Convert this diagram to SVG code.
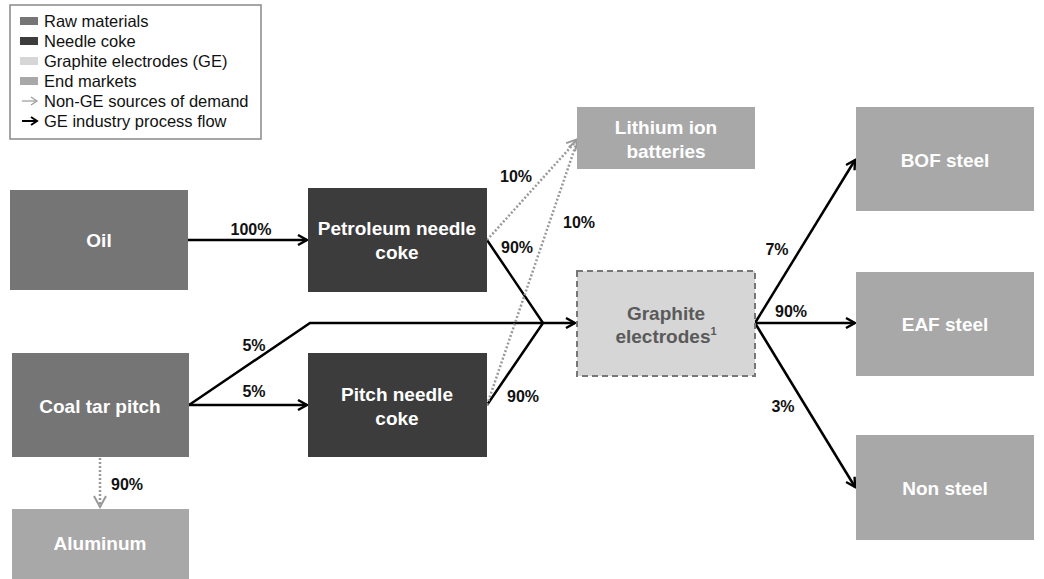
<svg xmlns="http://www.w3.org/2000/svg" width="1044" height="579" viewBox="0 0 1044 579">
<style>
.lbl{font-family:"Liberation Sans",Arial,sans-serif;font-weight:bold;font-size:19px;fill:#fff;text-anchor:middle}
.gel{font-family:"Liberation Sans",Arial,sans-serif;font-weight:bold;font-size:19px;fill:#5a5a5a;text-anchor:middle}
.pct{font-family:"Liberation Sans",Arial,sans-serif;font-weight:bold;font-size:16px;fill:#111;text-anchor:middle}
.leg{font-family:"Liberation Sans",Arial,sans-serif;font-size:16.5px;fill:#111}
.raw{fill:#757575}
.coke{fill:#3c3c3c}
.end{fill:#a8a8a8}
.ge{fill:#d6d6d6;stroke:#777;stroke-width:2;stroke-dasharray:6 4}
.flow{stroke:#000;stroke-width:2.5;fill:none}
.dot{stroke:#999;stroke-width:2.5;fill:none;stroke-dasharray:2 2}
</style>
<defs>
<marker id="ah" markerWidth="12" markerHeight="12" refX="10" refY="6" orient="auto" markerUnits="userSpaceOnUse">
<path d="M1,1 L10,6 L1,11" fill="none" stroke="#000" stroke-width="2.4"/>
</marker>
<marker id="ahg" markerWidth="14" markerHeight="14" refX="12" refY="7" orient="auto" markerUnits="userSpaceOnUse">
<path d="M1,1 L12,7 L1,13" fill="none" stroke="#999" stroke-width="2"/>
</marker>
</defs>
<rect width="1044" height="579" fill="#fff"/>
<g id="legend">
<rect x="10" y="5" width="251" height="134" fill="#fff" stroke="#888" stroke-width="1.5"/>
<rect x="20" y="17" width="18" height="8" class="raw"/>
<text x="44" y="27" class="leg">Raw materials</text>
<rect x="20" y="37" width="18" height="8" class="coke"/>
<text x="44" y="47" class="leg">Needle coke</text>
<rect x="20" y="57" width="18" height="8" fill="#d6d6d6"/>
<text x="44" y="67" class="leg">Graphite electrodes (GE)</text>
<rect x="20" y="77" width="18" height="8" class="end"/>
<text x="44" y="87" class="leg">End markets</text>
<line x1="22" y1="101" x2="36" y2="101" stroke="#999" stroke-width="1.2"/>
<path d="M31,97 L37,101 L31,105" fill="none" stroke="#999" stroke-width="1.2"/>
<text x="44" y="107" class="leg">Non-GE sources of demand</text>
<line x1="22" y1="121" x2="36" y2="121" stroke="#000" stroke-width="2"/>
<path d="M31,117 L37,121 L31,125" fill="none" stroke="#000" stroke-width="2"/>
<text x="44" y="127" class="leg">GE industry process flow</text>
</g>
<g id="connectors">
<line x1="188" y1="240" x2="307" y2="240" class="flow" marker-end="url(#ah)"/>
<line x1="189" y1="405" x2="307" y2="405" class="flow" marker-end="url(#ah)"/>
<polyline points="189,405 310,323 575,323" class="flow" marker-end="url(#ah)"/>
<polyline points="487,240 543,323 487,405" class="flow"/>
<line x1="487" y1="240" x2="578" y2="139" class="dot" marker-end="url(#ahg)"/>
<line x1="487" y1="405" x2="578" y2="139" class="dot" marker-end="url(#ahg)"/>
<line x1="100" y1="458" x2="100" y2="507" class="dot" marker-end="url(#ahg)"/>
<line x1="755" y1="323" x2="855" y2="160" class="flow" marker-end="url(#ah)"/>
<line x1="755" y1="323" x2="855" y2="323" class="flow" marker-end="url(#ah)"/>
<line x1="755" y1="323" x2="855" y2="487" class="flow" marker-end="url(#ah)"/>
<text x="251" y="235" class="pct">100%</text>
<text x="254" y="351" class="pct">5%</text>
<text x="254" y="397" class="pct">5%</text>
<text x="516" y="182" class="pct">10%</text>
<text x="579" y="228" class="pct">10%</text>
<text x="517" y="253" class="pct">90%</text>
<text x="523" y="402" class="pct">90%</text>
<text x="127" y="490" class="pct">90%</text>
<text x="777" y="255" class="pct">7%</text>
<text x="791" y="317" class="pct">90%</text>
<text x="783" y="412" class="pct">3%</text>
</g>
<g id="oil">
<rect x="10" y="190" width="178" height="100" class="raw"/>
<text x="99" y="247" class="lbl">Oil</text>
</g>
<g id="coal-tar-pitch">
<rect x="12" y="353" width="177" height="104" class="raw"/>
<text x="100" y="413" class="lbl">Coal tar pitch</text>
</g>
<g id="aluminum">
<rect x="12" y="509" width="177" height="70" class="end"/>
<text x="100" y="550" class="lbl">Aluminum</text>
</g>
<g id="petroleum-needle-coke">
<rect x="308" y="188" width="179" height="104" class="coke"/>
<text x="397" y="235" class="lbl">Petroleum needle</text>
<text x="397" y="259" class="lbl">coke</text>
</g>
<g id="pitch-needle-coke">
<rect x="308" y="353" width="179" height="104" class="coke"/>
<text x="397" y="401" class="lbl">Pitch needle</text>
<text x="397" y="425" class="lbl">coke</text>
</g>
<g id="lithium-ion-batteries">
<rect x="577" y="107" width="178" height="62" class="end"/>
<text x="666" y="134" class="lbl">Lithium ion</text>
<text x="666" y="158" class="lbl">batteries</text>
</g>
<g id="graphite-electrodes">
<rect x="577" y="271" width="178" height="105" class="ge"/>
<text x="666" y="320" class="gel">Graphite</text>
<text x="666" y="343" class="gel">electrodes<tspan font-size="11" dy="-8">1</tspan></text>
</g>
<g id="bof-steel">
<rect x="856" y="107" width="178" height="104" class="end"/>
<text x="945" y="167" class="lbl">BOF steel</text>
</g>
<g id="eaf-steel">
<rect x="856" y="272" width="178" height="104" class="end"/>
<text x="945" y="331" class="lbl">EAF steel</text>
</g>
<g id="non-steel">
<rect x="856" y="435" width="178" height="105" class="end"/>
<text x="945" y="495" class="lbl">Non steel</text>
</g>
</svg>
